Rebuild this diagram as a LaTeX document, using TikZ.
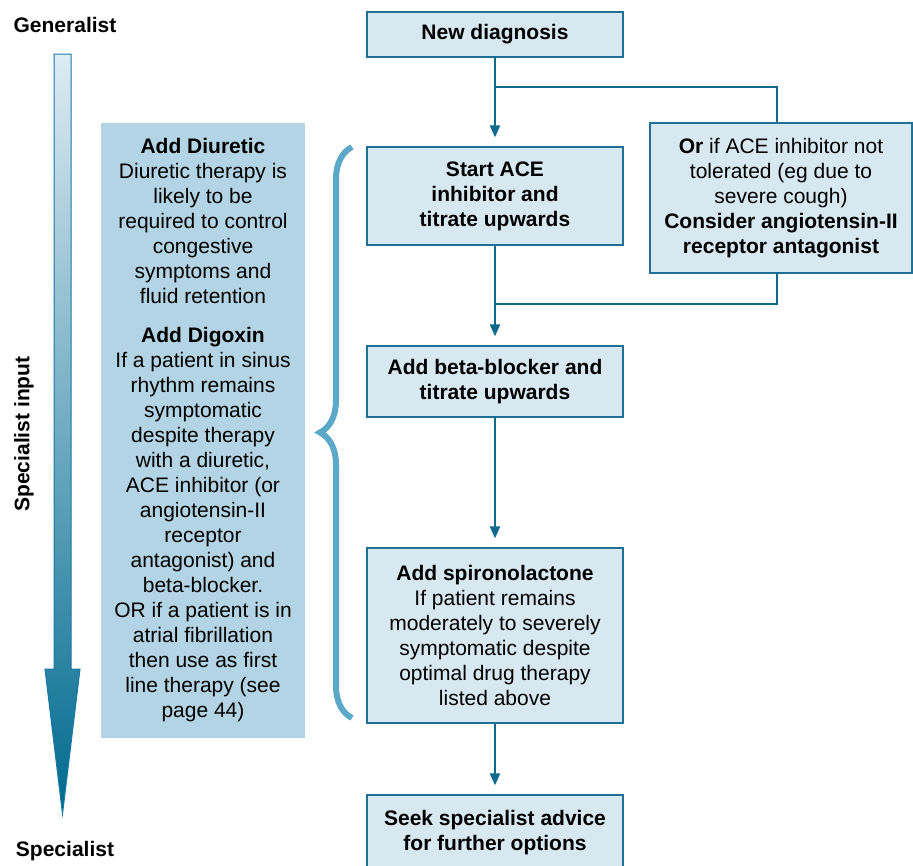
\documentclass[tikz,border=0pt]{standalone}
\usepackage{fontspec}
\setmainfont{Liberation Sans}
\usepackage{xcolor}
\usepackage{tikz}
\usetikzlibrary{positioning}
\usetikzlibrary{arrows.meta}
\usetikzlibrary{decorations.pathreplacing}

\definecolor{boxblue}{HTML}{D7E8F1}
\definecolor{edgeblue}{HTML}{1F7097}
\definecolor{lineblue}{HTML}{10698F}
\definecolor{sideblue}{HTML}{B3D4E4}
\definecolor{braceblue}{HTML}{5BA8C8}
\definecolor{arrowtop}{HTML}{DDEBF3}
\definecolor{arrowmid}{HTML}{59A8CC}
\definecolor{arrowbot}{HTML}{006A8E}
\definecolor{arrowedge}{HTML}{1A78A6}

\newcommand{\flowfont}{\fontsize{21}{25}\selectfont}

\begin{document}
\begin{tikzpicture}[x=1pt, y=-1pt,
  stepbox/.style={draw=edgeblue, line width=1.3pt, fill=boxblue, minimum width=256pt, align=center, inner sep=0pt, font=\flowfont},
  sidebox/.style={fill=sideblue, align=center, inner sep=0pt, font=\flowfont},
  endlabel/.style={font=\flowfont\bfseries},
  flowline/.style={draw=lineblue, line width=2.3pt},
  flowarrow/.style={flowline, -{Triangle[length=12pt,width=10pt]}, shorten >=9pt},
  bracemark/.style={draw=braceblue, line width=6pt, decorate, decoration={brace, amplitude=32pt}}
]

\useasboundingbox (0,0) rectangle (913,865);

% big arrow on the left
\shade[top color=arrowtop, middle color=arrowmid, bottom color=arrowbot]
  (54,54) -- (71,54) -- (71,669) -- (80,669) -- (62.5,814) -- (45,669) -- (54,669) -- cycle;
\draw[arrowedge, line width=1pt]
  (54,54) -- (71,54) -- (71,669) -- (80,669) -- (62.5,814) -- (45,669) -- (54,669) -- cycle;

\node[endlabel] (generalist) at (65,25) {Generalist};
\node[endlabel] (specialist) at (65,851) {Specialist};
\node[endlabel, rotate=90] (specinput) at (24,434) {Specialist input};

% side box
\node[sidebox, minimum width=204pt, minimum height=615pt] (addbox) at (203,430.5)
{\textbf{Add Diuretic}\\
Diuretic therapy is\\
likely to be\\
required to control\\
congestive\\
symptoms and\\
fluid retention\\[14pt]
\textbf{Add Digoxin}\\
If a patient in sinus\\
rhythm remains\\
symptomatic\\
despite therapy\\
with a diuretic,\\
ACE inhibitor (or\\
angiotensin-II\\
receptor\\
antagonist) and\\
beta-blocker.\\
OR if a patient is in\\
atrial fibrillation\\
then use as first\\
line therapy (see\\
page 44)};

% brace
\draw[bracemark] (352,718) -- (352,147);

% flow boxes
\node[stepbox, minimum height=45pt] (newdiag) at (495,34.5) {\textbf{New diagnosis}};

\node[stepbox, minimum height=98pt] (startace) at (495,196)
{\textbf{Start ACE}\\ \textbf{inhibitor and}\\ \textbf{titrate upwards}};

\node[stepbox, minimum width=262pt, minimum height=150pt] (orarb) at (781,198)
{\textbf{Or} if ACE inhibitor not\\ tolerated (eg due to\\ severe cough)\\
\textbf{Consider angiotensin-II}\\ \textbf{receptor antagonist}};

\node[stepbox, minimum height=71pt] (betablock) at (495,381.5)
{\textbf{Add beta-blocker and}\\ \textbf{titrate upwards}};

\node[stepbox, minimum height=175pt] (spiro) at (495,635.5)
{\textbf{Add spironolactone}\\ If patient remains\\ moderately to severely\\
symptomatic despite\\ optimal drug therapy\\ listed above};

\node[stepbox, minimum height=75pt] (seekadv) at (495,832.5)
{\textbf{Seek specialist advice}\\ \textbf{for further options}};

% connectors
\coordinate (split) at (495,87);
\coordinate (join) at (495,304);

\draw[flowarrow] (newdiag) -- (startace);
\draw[flowline] (split) -| ([xshift=-4pt]orarb.north);
\draw[flowarrow] (startace) -- (betablock);
\draw[flowline] ([xshift=-4pt]orarb.south) |- (join);
\draw[flowarrow] (betablock) -- (spiro);
\draw[flowarrow] (spiro) -- (seekadv);

\end{tikzpicture}
\end{document}
